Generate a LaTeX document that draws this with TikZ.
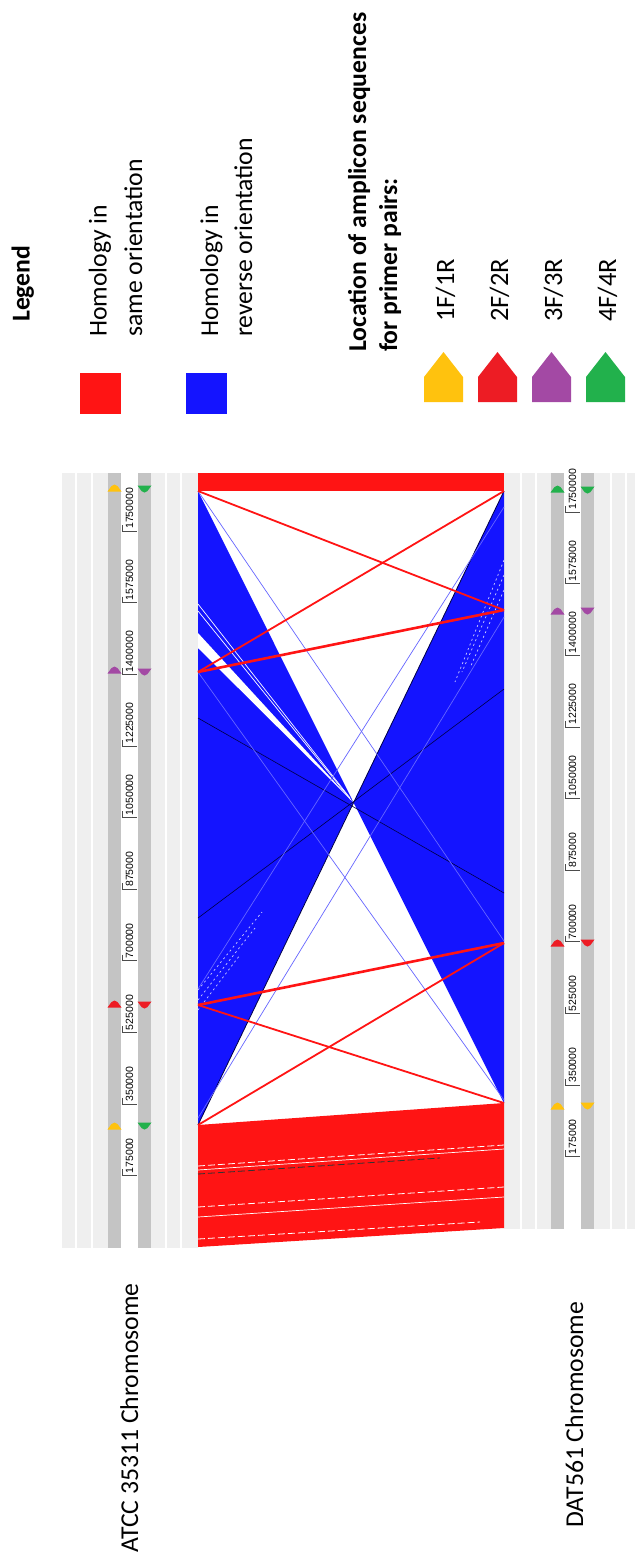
\documentclass[tikz,border=0pt]{standalone}
\usepackage{fontspec}
\setmainfont{Carlito}
\newfontfamily\tickfnt{Liberation Sans}
\definecolor{hred}{RGB}{255,20,20}
\definecolor{hblue}{RGB}{20,20,255}
\definecolor{lgray}{RGB}{239,239,239}
\definecolor{dgray}{RGB}{196,196,196}
\definecolor{myellow}{RGB}{255,194,14}
\definecolor{mred}{RGB}{237,28,36}
\definecolor{mpurple}{RGB}{163,73,164}
\definecolor{mgreen}{RGB}{34,177,76}
\definecolor{navy}{RGB}{0,0,70}
\newcommand\upmk[3]{\fill[#1] (#2-7,#3+3.5) -- (#2+7,#3+3.5) -- (#2+3,#3-2) -- (#2,#3-3.5) -- (#2-3,#3-2) -- cycle;}
\newcommand\dnmk[3]{\fill[#1] (#2-7,#3-3.5) -- (#2+7,#3-3.5) -- (#2+3,#3+2) -- (#2,#3+3.5) -- (#2-3,#3+2) -- cycle;}
\begin{document}
\begin{tikzpicture}[x=1pt,y=-1pt,
  lbl/.style={rotate=90, anchor=base west, inner sep=0, font=\fontsize{25.7}{30}\selectfont},
  blbl/.style={lbl, font=\fontsize{25.7}{30}\selectfont\bfseries},
  plbl/.style={lbl, font=\fontsize{26.5}{30}\selectfont},
  ticklbl/.style={rotate=90, anchor=west, inner sep=0, font=\tickfnt\fontsize{10.5}{12}\selectfont},
  tick/.style={line width=0.6pt, black!70},
  thinblue/.style={line width=0.7pt, blue!60!white},
  redline/.style={line width=1.8pt, hred},
  wdash/.style={white, line width=0.8pt, dash pattern=on 7pt off 3pt},
  wdot/.style={white!80!blue, line width=0.7pt, dash pattern=on 2pt off 3pt}]
\useasboundingbox (0,0) rectangle (635,1559);
\fill[white] (0,0) rectangle (635,1559);

% ---------------- Legend ----------------
\node[blbl] (legend) at (29.5,322) {Legend};
\fill[hred] (80,373) rectangle (121,414);
\node[lbl] (same1) at (106.5,337) {Homology in};
\node[lbl] (same2) at (142,337) {same orientation};
\fill[hblue] (186,373) rectangle (227,414);
\node[lbl] (rev1) at (218,337) {Homology in};
\node[lbl] (rev2) at (252,337) {reverse orientation};
\node[blbl] (loc1) at (366,352) {Location of amplicon sequences};
\node[blbl] (loc2) at (397,352) {for primer pairs:};
\foreach \c/\xa/\t [count=\i] in {myellow/424/1F\slash 1R, mred/478/2F\slash 2R, mpurple/532/3F\slash 3R, mgreen/586/4F\slash 4R}{
  \fill[\c] (\xa,402) -- (\xa+39,402) -- (\xa+39,377) -- (\xa+19.5,352) -- (\xa,377) -- cycle;
  \node[plbl] (pp\i) at (\xa+30,322) {\t};
}

% ---------------- Left track panel (ATCC) ----------------
\fill[lgray] (62,473) rectangle (197.5,1248);
\foreach \xx in {76,92,166,181}{\draw[white, line width=1.2pt] (\xx,473) -- (\xx,1248);}
\fill[dgray] (108,473) rectangle (121,1248);
\fill[white] (121,473) rectangle (138,1248);
\fill[dgray] (138,473) rectangle (151,1248);
\foreach \k/\t in {1/175000,2/350000,3/525000,4/700000,5/875000,6/1050000,7/1225000,8/1400000,9/1575000,10/1750000}{
  \pgfmathsetmacro\yy{1247-71.6*\k}
  \draw[tick] (122.5,\yy-6) -- (122.5,\yy) -- (136.5,\yy);
  \node[ticklbl] (lt\k) at (129.5,\yy-2) {\t};
}
\upmk{myellow}{114.5}{488}  \dnmk{mgreen}{144.5}{489}
\upmk{mpurple}{114.5}{670}  \dnmk{mpurple}{144.5}{672}
\upmk{mred}{114.5}{1004}    \dnmk{mred}{144.5}{1005}
\upmk{myellow}{114.5}{1126} \dnmk{mgreen}{144.5}{1126}

% ---------------- Right track panel (DAT561) ----------------
\fill[lgray] (504,473) rectangle (635,1229);
\foreach \xx in {521,536,611,626}{\draw[white, line width=1.2pt] (\xx,473) -- (\xx,1229);}
\fill[dgray] (551,473) rectangle (564,1229);
\fill[white] (564,473) rectangle (581,1229);
\fill[dgray] (581,473) rectangle (594,1229);
\foreach \k/\t in {1/175000,2/350000,3/525000,4/700000,5/875000,6/1050000,7/1225000,8/1400000,9/1575000,10/1750000}{
  \pgfmathsetmacro\yy{1228-71.6*\k}
  \draw[tick] (565.5,\yy-6) -- (565.5,\yy) -- (579.5,\yy);
  \node[ticklbl] (rt\k) at (572.5,\yy-2) {\t};
}
\upmk{mgreen}{557.5}{489}   \dnmk{mgreen}{587.5}{490}
\upmk{mpurple}{557.5}{611}  \dnmk{mpurple}{587.5}{611}
\upmk{mred}{557.5}{943}     \dnmk{mred}{587.5}{943}
\upmk{myellow}{557.5}{1106} \dnmk{myellow}{587.5}{1106}

% ---------------- Comparison area ----------------
\coordinate (X) at (353.5,802.5);
% top red band
\fill[hred] (198,473) rectangle (504,491);
% blue inverted regions
\fill[hblue] (198,491) -- (X) -- (198,1125) -- cycle;
\fill[hblue] (504,491) -- (X) -- (504,1103) -- cycle;
% white gaps in left wedge
\fill[white] (198,633) -- (198,648) -- (X) -- cycle;
\draw[white, line width=0.7pt] (198,604) -- (350,798);
\draw[white, line width=0.7pt] (198,611) -- (351,800);
% dotted white traces
\draw[wdot] (504,560) -- (455,682);
\draw[wdot] (504,575) -- (462,672);
\draw[wdot] (504,590) -- (470,668);
\draw[wdot] (198,990) -- (262,912);
\draw[wdot] (198,1000) -- (255,928);
\draw[wdot] (198,1010) -- (240,955);
% dark diagonal traces
\draw[navy, line width=0.8pt] (198,1125) -- (504,491);
\draw[navy, line width=0.6pt] (198,718) -- (504,893);
\draw[navy, line width=0.6pt] (198,918) -- (504,689);
% thin blue traces
\draw[thinblue] (198,491) -- (504,941);
\draw[thinblue] (504,507) -- (198,989);
\draw[thinblue] (198,672) -- (504,1100);
\draw[thinblue] (504,617) -- (198,1118);
% red traces
\draw[redline] (198,491) -- (504,610);
\draw[redline] (504,491) -- (198,672);
\draw[redline, line width=2.6pt] (198,672) -- (504,610);
\draw[redline, line width=2.6pt] (198,1005) -- (504,943);
\draw[redline] (198,1005) -- (504,1103);
\draw[redline] (198,1125) -- (504,943);
% bottom red band
\fill[hred] (198,1125) -- (504,1103) -- (504,1228) -- (198,1247) -- cycle;
\draw[wdash] (198,1166) -- (504,1145);
\draw[white, line width=0.7pt] (198,1170) -- (504,1149);
\draw[black!80, line width=0.8pt, dash pattern=on 7pt off 3pt] (198,1174) -- (440,1158);
\draw[wdash] (198,1207) -- (504,1187);
\draw[white, line width=0.7pt] (198,1217) -- (504,1197);
\draw[wdash] (198,1239) -- (480,1222);

% ---------------- Chromosome labels ----------------
\node[lbl] (atcc) at (138,1553) {ATCC 35311 Chromosome};
\node[lbl] (dat) at (583,1528) {DAT561 Chromosome};
\end{tikzpicture}
\end{document}
